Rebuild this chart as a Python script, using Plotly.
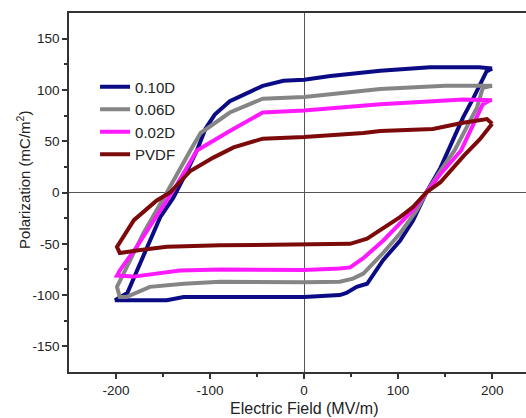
import plotly.graph_objects as go

# 0.10D loop (field MV/m, polarization mC/m^2)
d10_x = [200, 186, 134, 81, 28, 0, -22, -44, -79, -95, -105, -114, -125, -139, -153, -188, -201,
         -146, -128, -89, 0, 38, 45, 56, 67, 84, 102, 116, 130, 145, 153, 169, 180, 194, 200]
d10_y = [121, 122, 122, 118.6, 113.6, 110, 109, 104, 89, 76, 62, 41, 20, -5, -24, -98, -105,
         -105, -102, -102, -102, -100, -98, -92, -89, -66, -47, -27, 0, 24, 41, 73, 92, 118, 121]

# 0.06D loop
d06_x = [200, 150, 81, 0, -44, -79, -110, -121, -146, -171, -199, -196, -189, -164, -128, -89, 0,
         38, 52, 63, 84, 102, 120, 130, 145, 160, 184, 190, 200]
d06_y = [104, 104, 101, 93, 91.5, 78, 58, 41, 0, -40, -92, -102, -102, -92, -89, -87, -87.5,
         -87, -84, -79, -59, -40, -17, 0, 21, 41, 83, 102, 104]

# 0.02D loop
d02_x = [200, 169, 137, 81, 0, -44, -79, -114, -135, -157, -178, -196, -199, -181, -146, -132, -89, 0,
         38, 49, 63, 84, 102, 116, 130, 145, 167, 184, 190, 198, 200]
d02_y = [90, 90.6, 89, 86, 80, 78, 60, 41, 8, -24, -53, -76, -81, -82, -77.5, -76, -75, -75.5,
         -74, -73, -64, -47, -30, -17, 0, 18, 41, 73, 86, 90, 90]

# PVDF loop
pv_x = [200, 194.5, 169, 137, 81, 63, 0, -44, -75, -96.5, -121, -142.5, -157, -181, -199, -196, -174, -146, -89, 0,
        49, 67, 84, 102, 116, 130, 145, 170, 187, 200]
pv_y = [67, 71.6, 68, 62, 60, 58, 54, 52.5, 44, 34, 21, 0, -8, -27, -53, -59, -56, -53, -51.5, -50.5,
        -50, -45, -35, -24, -14, 0, 10, 36, 52, 67]

names = ["0.10D", "0.06D", "0.02D", "PVDF"]
colors = ["#0b0b86", "#858585", "#ff19ff", "#7d0a0a"]
series = [(d10_x, d10_y), (d06_x, d06_y), (d02_x, d02_y), (pv_x, pv_y)]

x_ticks = [-200, -100, 0, 100, 200]
y_ticks = [-150, -100, -50, 0, 50, 100, 150]
x_title = "Electric Field (MV/m)"
y_title = "Polarization (mC/m<sup>2</sup>)"

fig = go.Figure()
for nm, col, (xs, ys) in zip(names, colors, series):
    fig.add_trace(go.Scatter(x=xs, y=ys, mode="lines", name=nm,
                             line=dict(color=col, width=4)))

font_family = "Liberation Sans, Arial, sans-serif"
fig.update_layout(
    width=526, height=418,
    margin=dict(l=69, r=0, t=13, b=46),
    paper_bgcolor="white", plot_bgcolor="white",
    font=dict(family=font_family, color="#222", size=14),
    showlegend=True,
    legend=dict(x=0.057, y=0.84, xanchor="left", yanchor="top",
                bgcolor="rgba(0,0,0,0)", font=dict(size=15, color="#222"),
                tracegroupgap=0, itemwidth=30),
    xaxis=dict(range=[-250, 236], tickvals=x_ticks, ticktext=[str(v) for v in x_ticks],
               showgrid=False, zeroline=True, zerolinecolor="#555", zerolinewidth=1,
               showline=True, linecolor="#333", linewidth=1.5, mirror=True,
               ticks="outside", ticklen=5, tickcolor="#333", tickwidth=1.5,
               minor=dict(tickvals=[-150, -50, 50, 150], ticks="outside", ticklen=3,
                          tickcolor="#333", tickwidth=1.5),
               tickfont=dict(size=13.5)),
    yaxis=dict(range=[-175, 175], tickvals=y_ticks, ticktext=[str(v) for v in y_ticks],
               showgrid=False, zeroline=True, zerolinecolor="#555", zerolinewidth=1,
               showline=True, linecolor="#333", linewidth=1.5, mirror=False,
               ticks="outside", ticklen=5, tickcolor="#333", tickwidth=1.5,
               minor=dict(tickvals=[-125, -75, -25, 25, 75, 125], ticks="outside", ticklen=3,
                          tickcolor="#333", tickwidth=1.5),
               tickfont=dict(size=13.5)),
    annotations=[
        dict(text=x_title, x=0, xref="x", y=-0.103, yref="paper",
             xanchor="center", yanchor="middle", showarrow=False,
             font=dict(size=16, color="#222")),
        dict(text=y_title, x=-0.0985, xref="paper", y=0.535, yref="paper",
             xanchor="center", yanchor="middle", showarrow=False, textangle=-90,
             font=dict(size=15, color="#222")),
    ],
)

fig.write_html("out.html")
